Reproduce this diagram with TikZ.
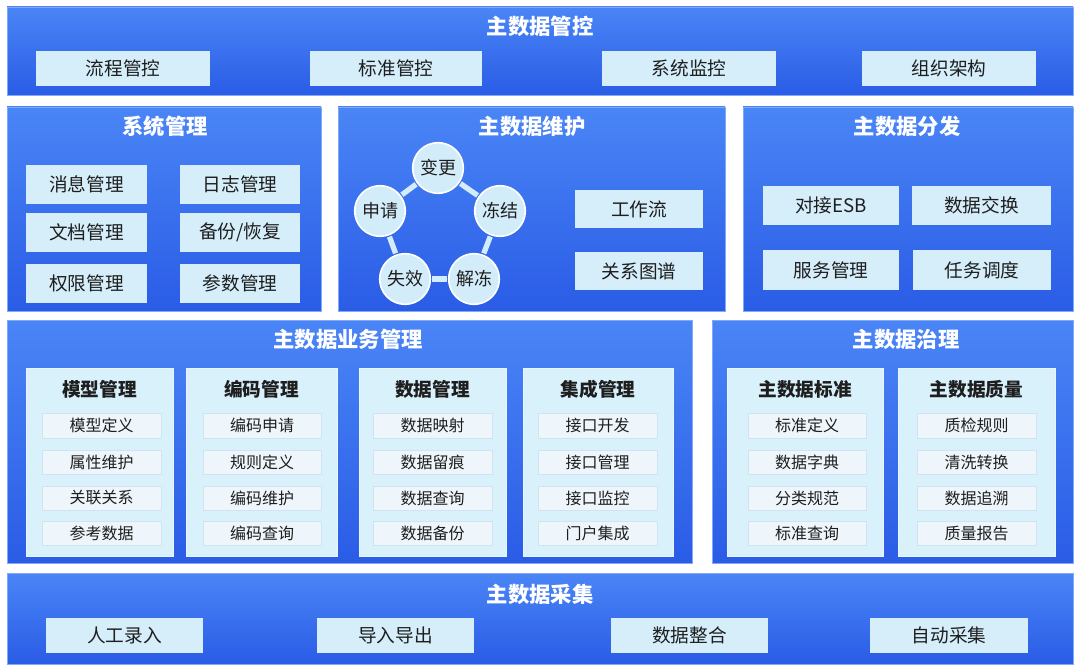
\documentclass[tikz,border=0pt]{standalone}
\usepackage{fontspec}
\setmainfont{Noto Sans CJK SC}
\definecolor{pTop}{HTML}{4A85F6}
\definecolor{pBot}{HTML}{2A5CE6}
\definecolor{boxF}{HTML}{D5EEFA}
\definecolor{subF}{HTML}{D9F1FB}
\definecolor{itemF}{HTML}{EEF6FB}
\definecolor{itemD}{HTML}{CFE3F1}
\definecolor{txt}{HTML}{1E1E1E}
\definecolor{circF}{HTML}{D3ECFA}
\newcommand{\bx}[7]{\node[#6, minimum width={(#4-#2)*0.75pt}, minimum height={(#5-#3)*0.75pt}] (#1) at ({(#2+#4)/2},{(#3+#5)/2}) {#7};}
\tikzset{
  panel/.style={inner sep=0pt, outer sep=0pt, top color=pTop, bottom color=pBot, draw=pTop!70!white, line width=0.6pt},
  ptitle/.style={text=white, font=\bfseries\fontsize{16}{18}\selectfont, inner sep=0pt},
  bigbox/.style={inner sep=0pt, outer sep=0pt, fill=boxF, text=txt, font=\fontsize{14}{16}\selectfont},
  subpanel/.style={inner sep=0pt, outer sep=0pt, fill=subF, draw=subF!60!white, line width=0.5pt},
  stitle/.style={text=txt, font=\bfseries\fontsize{14}{16}\selectfont, inner sep=0pt},
  item/.style={inner sep=0pt, outer sep=0pt, fill=itemF, draw=itemD, line width=0.4pt, text=txt, font=\fontsize{12}{14}\selectfont},
  circ/.style={circle, minimum size=38pt, inner sep=0pt, outer sep=1.5pt, fill=circF, draw=white, line width=1.2pt, text=txt, font=\fontsize{13.5}{15}\selectfont},
  link/.style={draw=circF, line width=4pt}
}
\begin{document}
\begin{tikzpicture}[x=0.75pt,y=-0.75pt]
\fill[white] (0,0) rectangle (1080,670);
\useasboundingbox (0,0) rectangle (1080,670);

% ---- top panel
\bx{pTopPanel}{7}{7}{1073}{95}{panel}{}
\node[ptitle] (tTop) at (540,26) {主数据管控};
\bx{b11}{36}{51}{210}{86}{bigbox}{流程管控}
\bx{b12}{310}{51}{482}{86}{bigbox}{标准管控}
\bx{b13}{602}{51}{776}{86}{bigbox}{系统监控}
\bx{b14}{862}{51}{1036}{86}{bigbox}{组织架构}

% ---- system management
\bx{pSys}{7}{107}{321}{311}{panel}{}
\node[ptitle] (tSys) at (165,126) {系统管理};
\bx{s1}{26}{165}{147}{204}{bigbox}{消息管理}
\bx{s2}{180}{165}{300}{204}{bigbox}{日志管理}
\bx{s3}{26}{213}{147}{252}{bigbox}{文档管理}
\bx{s4}{180}{213}{300}{252}{bigbox}{备份/恢复}
\bx{s5}{26}{264}{147}{303}{bigbox}{权限管理}
\bx{s6}{180}{264}{300}{303}{bigbox}{参数管理}

% ---- maintenance
\bx{pMnt}{338}{107}{725}{311}{panel}{}
\node[ptitle] (tMnt) at (532,126) {主数据维护};
\node[circ] (cA) at (438,168) {变更};
\node[circ] (cB) at (500,211) {冻结};
\node[circ] (cC) at (474,279) {解冻};
\node[circ] (cD) at (405,279) {失效};
\node[circ] (cE) at (380,211) {申请};
\draw[link] (cA) -- (cB);
\draw[link] (cB) -- (cC);
\draw[link] (cC) -- (cD);
\draw[link] (cD) -- (cE);
\draw[link] (cE) -- (cA);
\bx{m1}{575}{190}{703}{228}{bigbox}{工作流}
\bx{m2}{575}{252}{703}{290}{bigbox}{关系图谱}

% ---- distribution
\bx{pDist}{743}{107}{1073}{311}{panel}{}
\node[ptitle] (tDist) at (907,126) {主数据分发};
\bx{d1}{763}{186}{899}{225}{bigbox}{对接ESB}
\bx{d2}{912}{186}{1051}{225}{bigbox}{数据交换}
\bx{d3}{763}{250}{899}{290}{bigbox}{服务管理}
\bx{d4}{913}{250}{1051}{290}{bigbox}{任务调度}

% ---- business management
\bx{pBiz}{7}{320}{692}{563}{panel}{}
\node[ptitle] (tBiz) at (348,339) {主数据业务管理};
\bx{g1}{26}{368}{173}{556}{subpanel}{}
\bx{g2}{186}{368}{337}{556}{subpanel}{}
\bx{g3}{359}{368}{506}{556}{subpanel}{}
\bx{g4}{523}{368}{673}{556}{subpanel}{}
\node[stitle] (tg1) at (99.5,389) {模型管理};
\node[stitle] (tg2) at (261.5,389) {编码管理};
\node[stitle] (tg3) at (432.5,389) {数据管理};
\node[stitle] (tg4) at (598,389) {集成管理};
\bx{g1a}{42}{413}{161}{438}{item}{模型定义}
\bx{g1b}{42}{450}{161}{474}{item}{属性维护}
\bx{g1c}{42}{486}{161}{510}{item}{关联关系}
\bx{g1d}{42}{521}{161}{545}{item}{参考数据}
\bx{g2a}{203}{413}{321}{438}{item}{编码申请}
\bx{g2b}{203}{450}{321}{474}{item}{规则定义}
\bx{g2c}{203}{486}{321}{510}{item}{编码维护}
\bx{g2d}{203}{521}{321}{545}{item}{编码查询}
\bx{g3a}{373}{413}{492}{438}{item}{数据映射}
\bx{g3b}{373}{450}{492}{474}{item}{数据留痕}
\bx{g3c}{373}{486}{492}{510}{item}{数据查询}
\bx{g3d}{373}{521}{492}{545}{item}{数据备份}
\bx{g4a}{538}{413}{657}{438}{item}{接口开发}
\bx{g4b}{538}{450}{657}{474}{item}{接口管理}
\bx{g4c}{538}{486}{657}{510}{item}{接口监控}
\bx{g4d}{538}{521}{657}{545}{item}{门户集成}

% ---- governance
\bx{pGov}{712}{320}{1073}{563}{panel}{}
\node[ptitle] (tGov) at (906,339) {主数据治理};
\bx{h1}{727}{368}{883}{556}{subpanel}{}
\bx{h2}{898}{368}{1055}{556}{subpanel}{}
\node[stitle] (th1) at (805,389) {主数据标准};
\node[stitle] (th2) at (976.5,389) {主数据质量};
\bx{h1a}{748}{413}{866}{438}{item}{标准定义}
\bx{h1b}{748}{450}{866}{474}{item}{数据字典}
\bx{h1c}{748}{486}{866}{510}{item}{分类规范}
\bx{h1d}{748}{521}{866}{545}{item}{标准查询}
\bx{h2a}{917}{413}{1036}{438}{item}{质检规则}
\bx{h2b}{917}{450}{1036}{474}{item}{清洗转换}
\bx{h2c}{917}{486}{1036}{510}{item}{数据追溯}
\bx{h2d}{917}{521}{1036}{545}{item}{质量报告}

% ---- collection
\bx{pCol}{7}{573}{1073}{664}{panel}{}
\node[ptitle] (tCol) at (540,594) {主数据采集};
\bx{k1}{46}{618}{203}{653}{bigbox}{人工录入}
\bx{k2}{317}{618}{474}{653}{bigbox}{导入导出}
\bx{k3}{611}{618}{768}{653}{bigbox}{数据整合}
\bx{k4}{870}{618}{1028}{653}{bigbox}{自动采集}
\end{tikzpicture}
\end{document}
